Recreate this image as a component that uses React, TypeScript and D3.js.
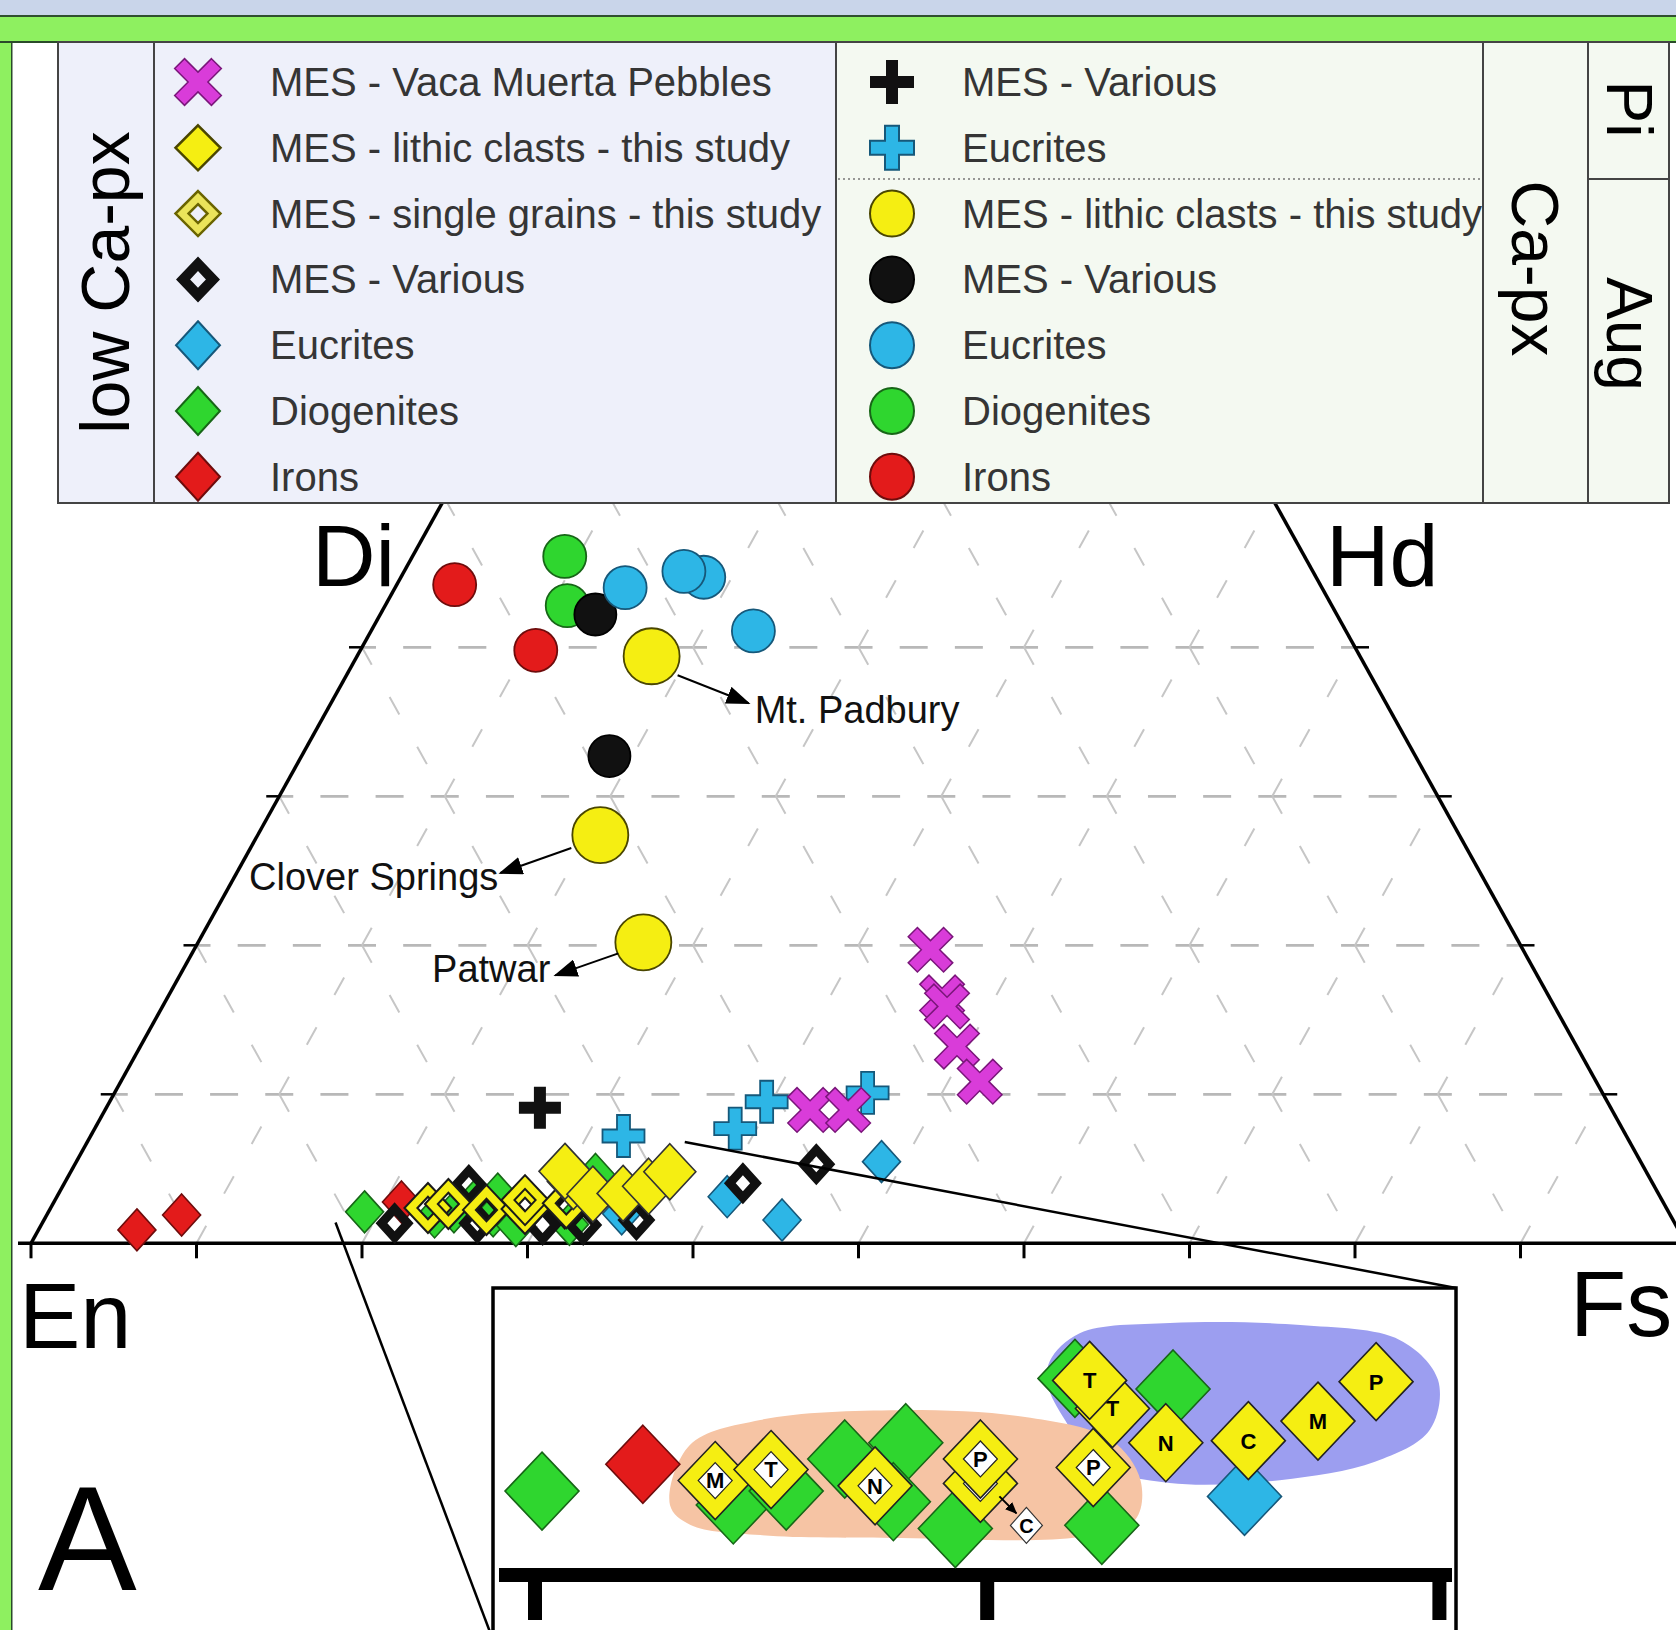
import * as d3 from "d3";

type Pt = { wo: number; fs: number; label?: string };

const WIDTH = 1676;
const HEIGHT = 1630;
const FONT = "'Liberation Sans', Arial, Helvetica, sans-serif";

// ---- Ca-px (augite circles, pigeonite crosses)  values in mol% Wo / Fs ----
const caIrons: Pt[] = [{ wo: 44.2, fs: 3.5 }, { wo: 39.8, fs: 10.6 }];
const caDiogenites: Pt[] = [{ wo: 46.1, fs: 9.2 }, { wo: 42.8, fs: 11.0 }];
const caVarious: Pt[] = [{ wo: 42.2, fs: 13.0 }, { wo: 32.7, fs: 18.6 }];
const caEucrites: Pt[] = [
  { wo: 44.0, fs: 13.9 },
  { wo: 44.7, fs: 18.3 },
  { wo: 45.1, fs: 16.9 },
  { wo: 41.1, fs: 23.1 },
];
const caLithic: Pt[] = [
  { wo: 39.4, fs: 17.8, label: "Mt. Padbury" },
  { wo: 27.4, fs: 20.7, label: "Clover Springs" },
  { wo: 20.2, fs: 26.9, label: "Patwar" },
];
const piVarious: Pt[] = [{ wo: 9.1, fs: 26.2 }];
const piEucrites: Pt[] = [
  { wo: 7.2, fs: 32.2 },
  { wo: 7.7, fs: 38.7 },
  { wo: 9.5, fs: 39.7 },
  { wo: 10.1, fs: 45.5 },
];

// ---- low Ca-px (diamonds) ----
const vacaMuerta: Pt[] = [
  { wo: 8.95, fs: 42.6 },
  { wo: 8.95, fs: 44.9 },
  { wo: 19.7, fs: 44.5 },
  { wo: 16.5, fs: 46.8 },
  { wo: 15.9, fs: 47.4 },
  { wo: 13.2, fs: 49.35 },
  { wo: 10.85, fs: 51.9 },
];
const lowDiogenites: Pt[] = [
  { wo: 2.11, fs: 19.1 },
  { wo: 1.77, fs: 23.5 },
  { wo: 2.11, fs: 24.5 },
  { wo: 2.9, fs: 25.4 },
  { wo: 3.3, fs: 26.55 },
  { wo: 1.85, fs: 27.0 },
  { wo: 1.19, fs: 28.7 },
  { wo: 1.27, fs: 31.9 },
  { wo: 4.88, fs: 29.5 },
  { wo: 4.62, fs: 31.8 },
];
const lowIrons: Pt[] = [
  { wo: 0.9, fs: 5.95 },
  { wo: 1.9, fs: 8.15 },
  { wo: 2.77, fs: 21.0 },
];
const lowEucrites: Pt[] = [
  { wo: 1.98, fs: 34.7 },
  { wo: 3.13, fs: 40.5 },
  { wo: 1.56, fs: 44.6 },
  { wo: 5.48, fs: 48.65 },
];
const lowVarious: Pt[] = [
  { wo: 1.34, fs: 21.3 },
  { wo: 3.91, fs: 24.5 },
  { wo: 1.34, fs: 26.3 },
  { wo: 2.23, fs: 26.4 },
  { wo: 2.68, fs: 28.6 },
  { wo: 1.23, fs: 30.3 },
  { wo: 2.3, fs: 31.1 },
  { wo: 1.23, fs: 32.75 },
  { wo: 1.56, fs: 35.8 },
  { wo: 4.03, fs: 41.0 },
  { wo: 5.3, fs: 44.8 },
];
const singleGrains: Pt[] = [
  { wo: 2.37, fs: 22.8, label: "M" },
  { wo: 2.64, fs: 23.9, label: "T" },
  { wo: 2.24, fs: 26.4, label: "N" },
  { wo: 2.3, fs: 28.7, label: "" },
  { wo: 2.9, fs: 28.4, label: "P" },
  { wo: 2.69, fs: 31.0, label: "P" },
];
const lithicClasts: Pt[] = [
  { wo: 4.14, fs: 30.7, label: "T" },
  { wo: 4.83, fs: 29.85, label: "T" },
  { wo: 3.3, fs: 32.3, label: "N" },
  { wo: 3.35, fs: 34.1, label: "C" },
  { wo: 3.83, fs: 35.4, label: "M" },
  { wo: 4.8, fs: 36.2, label: "P" },
];

// shaded fields in the enlargement
const peachField: [number, number][] = [
  [1.77, 22.1], [3.24, 21.8], [3.86, 23.05], [4.1, 26.0], [3.91, 29.0], [3.37, 31.05],
  [2.38, 32.2], [1.4, 32.57], [0.98, 31.56], [0.96, 27.6], [1.03, 24.47], [1.28, 22.8],
];
const blueField: [number, number][] = [
  [5.31, 28.73], [5.99, 29.05], [6.24, 30.92], [6.19, 33.83], [5.82, 36.22], [4.84, 37.55],
  [3.61, 37.98], [2.83, 37.16], [2.38, 35.28], [2.31, 32.88], [2.75, 31.11], [3.86, 29.79], [4.72, 28.98],
];

const legendLow = [
  "MES - Vaca Muerta Pebbles",
  "MES - lithic clasts - this study",
  "MES - single grains - this study",
  "MES - Various",
  "Eucrites",
  "Diogenites",
  "Irons",
];
const legendCa = [
  "MES - Various",
  "Eucrites",
  "MES - lithic clasts - this study",
  "MES - Various",
  "Eucrites",
  "Diogenites",
  "Irons",
];

const woLevels = [10, 20, 30, 40];
const gridLevels = d3.range(10, 100, 10);
const baseTicks = d3.range(0, 101, 10);
const insetTicks = [20, 30, 40];

const C = {
  yellow: "#f5ee12",
  yellowS: "#4a4600",
  green: "#2fd62f",
  greenS: "#176617",
  red: "#e31b1b",
  redS: "#6e0c0c",
  blue: "#2db6e6",
  blueS: "#16587a",
  black: "#111",
  magenta: "#d93cd9",
  magentaS: "#7a167a",
};

// ---- scales ----
const xMain = d3.scaleLinear().domain([0, 100]).range([31, 1686]);
const yMain = d3.scaleLinear().domain([0, 50]).range([1243.3, 498.3]);
const mx = (p: { wo: number; fs: number }) => xMain(p.fs + p.wo / 2);
const my = (p: { wo: number; fs: number }) => yMain(p.wo);

const xIn = d3.scaleLinear().domain([20, 40]).range([535, 1439.4]);
const yIn = d3.scaleLinear().domain([0, 10]).range([1577, 1170]);
const INSET = { left: 493, right: 1456, top: 1288 };
const inX0 = xIn.invert(INSET.left);
const inX1 = xIn.invert(INSET.right);
const ix = (p: { wo: number; fs: number }) => xIn(p.fs + p.wo / 2);
const iy = (p: { wo: number; fs: number }) => yIn(p.wo);
const inInset = (p: Pt) => {
  const v = p.fs + p.wo / 2;
  return v > inX0 && v < inX1;
};

// ---- symbol paths ----
const diamond = (cx: number, cy: number, hw: number, hh: number) =>
  `M${cx},${cy - hh}L${cx + hw},${cy}L${cx},${cy + hh}L${cx - hw},${cy}Z`;
const ring = (cx: number, cy: number, hw: number, hh: number, k: number) =>
  diamond(cx, cy, hw, hh) + diamond(cx, cy, hw * k, hh * k);
const plusPts = (L: number, t: number) => [
  [-t, -L], [t, -L], [t, -t], [L, -t], [L, t], [t, t],
  [t, L], [-t, L], [-t, t], [-L, t], [-L, -t], [-t, -t],
];
const plus = (cx: number, cy: number, L: number, t: number) =>
  "M" + plusPts(L, t).map(([x, y]) => `${cx + x},${cy + y}`).join("L") + "Z";
const cross = (cx: number, cy: number, L: number, t: number) =>
  "M" +
  plusPts(L, t)
    .map(([x, y]) => `${cx + (x - y) / Math.SQRT2},${cy + (x + y) / Math.SQRT2}`)
    .join("L") +
  "Z";

const annotations = [
  { from: [26, 19], to: [97, 47], text: [103, 67], anchor: "start" },
  { from: [-29, 13], to: [-100, 38], text: [-102, 55], anchor: "end" },
  { from: [-25, 11], to: [-88, 33], text: [-93, 40], anchor: "end" },
];

const LowSymbol = ({ i, x, y }: { i: number; x: number; y: number }) => {
  if (i === 0)
    return <path d={cross(x, y, 26, 7)} fill={C.magenta} stroke={C.magentaS} strokeWidth={1.5} />;
  if (i === 1)
    return <path d={diamond(x, y, 22.5, 22.5)} fill={C.yellow} stroke={C.yellowS} strokeWidth={2.5} />;
  if (i === 2)
    return (
      <path d={ring(x, y, 22.5, 22.5, 0.42)} fill="#ebe45a" fillRule="evenodd" stroke="#6a6400" strokeWidth={2.5} />
    );
  if (i === 3) return <path d={ring(x, y, 22, 23, 0.36)} fill={C.black} fillRule="evenodd" />;
  const fills = [C.blue, C.green, C.red];
  const strokes = [C.blueS, C.greenS, C.redS];
  return <path d={diamond(x, y, 22, 24)} fill={fills[i - 4]} stroke={strokes[i - 4]} strokeWidth={2} />;
};

const CaSymbol = ({ i, x, y }: { i: number; x: number; y: number }) => {
  if (i === 0) return <path d={plus(x, y, 22, 6)} fill={C.black} />;
  if (i === 1) return <path d={plus(x, y, 22, 7)} fill={C.blue} stroke={C.blueS} strokeWidth={2} />;
  const fills = [C.yellow, C.black, C.blue, C.green, C.red];
  const strokes = [C.yellowS, "#000", C.blueS, C.greenS, C.redS];
  return <ellipse cx={x} cy={y} rx={22} ry={23} fill={fills[i - 2]} stroke={strokes[i - 2]} strokeWidth={2} />;
};

export default function App() {
  const blobLine = d3
    .line<[number, number]>()
    .x((d) => xIn(d[1] + d[0] / 2))
    .y((d) => yIn(d[0]))
    .curve(d3.curveCatmullRomClosed.alpha(0.5));

  const rows = d3.range(7).map((i) => 82 + i * 65.8);

  // grid segments in composition space
  const gridSegs: { a: Pt; b: Pt; kind: string }[] = [];
  woLevels.forEach((w) => gridSegs.push({ a: { wo: w, fs: 0 }, b: { wo: w, fs: 100 - w }, kind: "h" }));
  gridLevels.forEach((f) => {
    const top = Math.min(50, 100 - f);
    gridSegs.push({ a: { wo: 0, fs: f }, b: { wo: top, fs: f }, kind: "fs" });
  });
  gridLevels.forEach((e) => {
    const top = Math.min(50, 100 - e);
    gridSegs.push({ a: { wo: 0, fs: 100 - e }, b: { wo: top, fs: 100 - e - top }, kind: "en" });
  });

  const sgIn = singleGrains.filter(inInset);
  const cLabelPt = singleGrains.find((p) => p.label === "");

  return (
    <svg
      width={WIDTH}
      height={HEIGHT}
      style={{ position: "absolute", left: 0, top: 0, fontFamily: FONT }}
    >
      <defs>
        <marker id="arr" markerUnits="userSpaceOnUse" markerWidth={24} markerHeight={18} refX={22} refY={9} orient="auto">
          <path d="M0,0L24,9L0,18Z" fill="#000" />
        </marker>
        <marker id="arrS" markerUnits="userSpaceOnUse" markerWidth={12} markerHeight={10} refX={11} refY={5} orient="auto">
          <path d="M0,0L12,5L0,10Z" fill="#000" />
        </marker>
      </defs>

      {/* frame */}
      <rect x={0} y={0} width={WIDTH} height={HEIGHT} fill="#fff" />
      <rect x={0} y={0} width={WIDTH} height={15} fill="#c9d5ea" />
      <rect x={0} y={15} width={WIDTH} height={2} fill="#2f4f2f" />
      <rect x={0} y={17} width={WIDTH} height={24} fill="#8ef060" />
      <rect x={0} y={17} width={11} height={HEIGHT} fill="#8ef060" />
      <rect x={0} y={41} width={WIDTH} height={2} fill="#2a4a2a" />
      <rect x={11} y={41} width={1.5} height={HEIGHT} fill="#2a4a2a" />

      {/* grid */}
      <g fill="none">
        {gridSegs.map((s, i) => {
          const h = s.kind === "h";
          return (
            <line
              key={i}
              x1={mx(s.a)}
              y1={my(s.a)}
              x2={mx(s.b)}
              y2={my(s.b)}
              stroke={h ? "#b8b8b8" : "#c6c6c6"}
              strokeWidth={h ? 2.8 : 2}
              strokeDasharray={h ? "28 27.17" : "20 36.81"}
              strokeDashoffset={h ? 14 : s.kind === "en" ? 20 : 0}
            />
          );
        })}
      </g>

      {/* axes */}
      <g stroke="#000" strokeWidth={3.5} fill="none">
        <line x1={mx({ wo: 0, fs: 0 })} y1={my({ wo: 0, fs: 0 })} x2={mx({ wo: 50, fs: 0 })} y2={my({ wo: 50, fs: 0 })} />
        <line x1={mx({ wo: 0, fs: 100 })} y1={my({ wo: 0, fs: 100 })} x2={mx({ wo: 50, fs: 50 })} y2={my({ wo: 50, fs: 50 })} />
        <line x1={18} y1={yMain(0)} x2={WIDTH} y2={yMain(0)} />
        {baseTicks.map((t) => (
          <line key={t} x1={xMain(t)} y1={yMain(0)} x2={xMain(t)} y2={yMain(0) + 15} strokeWidth={3} />
        ))}
        {woLevels.map((w) => (
          <g key={w} strokeWidth={2.5}>
            <line x1={mx({ wo: w, fs: 0 }) - 13} y1={yMain(w)} x2={mx({ wo: w, fs: 0 })} y2={yMain(w)} />
            <line x1={mx({ wo: w, fs: 100 - w })} y1={yMain(w)} x2={mx({ wo: w, fs: 100 - w }) + 14} y2={yMain(w)} />
          </g>
        ))}
      </g>

      {/* Ca-px circles */}
      <g strokeWidth={1.8}>
        {caIrons.map((p, i) => (
          <circle key={"ci" + i} cx={mx(p)} cy={my(p)} r={21.5} fill={C.red} stroke={C.redS} />
        ))}
        {caDiogenites.map((p, i) => (
          <circle key={"cd" + i} cx={mx(p)} cy={my(p)} r={21.5} fill={C.green} stroke={C.greenS} />
        ))}
        {caVarious.map((p, i) => (
          <circle key={"cv" + i} cx={mx(p)} cy={my(p)} r={21} fill={C.black} stroke="#000" />
        ))}
        {caEucrites.map((p, i) => (
          <circle key={"ce" + i} cx={mx(p)} cy={my(p)} r={21.5} fill={C.blue} stroke={C.blueS} />
        ))}
        {caLithic.map((p, i) => (
          <circle key={"cl" + i} cx={mx(p)} cy={my(p)} r={28} fill={C.yellow} stroke={C.yellowS} />
        ))}
      </g>

      {/* annotations */}
      {caLithic.map((p, i) => {
        const a = annotations[i];
        const x = mx(p);
        const y = my(p);
        return (
          <g key={"an" + i}>
            <line x1={x + a.from[0]} y1={y + a.from[1]} x2={x + a.to[0]} y2={y + a.to[1]} stroke="#000" strokeWidth={2} markerEnd="url(#arr)" />
            <text x={x + a.text[0]} y={y + a.text[1]} fontSize={38} textAnchor={a.anchor} fill="#111">
              {p.label}
            </text>
          </g>
        );
      })}

      {/* pigeonite crosses */}
      {piVarious.map((p, i) => (
        <path key={"pv" + i} d={plus(mx(p), my(p), 21, 6)} fill={C.black} />
      ))}
      {piEucrites.map((p, i) => (
        <path key={"pe" + i} d={plus(mx(p), my(p), 21, 6.5)} fill={C.blue} stroke={C.blueS} strokeWidth={1.8} />
      ))}
      {vacaMuerta.map((p, i) => (
        <path key={"vm" + i} d={cross(mx(p), my(p), 25, 6.5)} fill={C.magenta} stroke={C.magentaS} strokeWidth={1.5} />
      ))}

      {/* low Ca-px diamonds */}
      <g strokeWidth={1.6}>
        {lowDiogenites.map((p, i) => (
          <path key={"ld" + i} d={diamond(mx(p), my(p), 19, 21)} fill={C.green} stroke={C.greenS} />
        ))}
        {lowIrons.map((p, i) => (
          <path key={"li" + i} d={diamond(mx(p), my(p), 19, 21)} fill={C.red} stroke={C.redS} />
        ))}
        {lowEucrites.map((p, i) => (
          <path key={"le" + i} d={diamond(mx(p), my(p), 19, 21)} fill={C.blue} stroke={C.blueS} />
        ))}
        {lowVarious.map((p, i) => (
          <path key={"lv" + i} d={ring(mx(p), my(p), 19, 21, 0.38)} fill={C.black} fillRule="evenodd" stroke="none" />
        ))}
        {singleGrains.map((p, i) => (
          <path key={"sg" + i} d={ring(mx(p), my(p), 23.5, 25, 0.45)} fill={C.yellow} fillRule="evenodd" stroke="#1a1a1a" strokeWidth={2} />
        ))}
        {lithicClasts.map((p, i) => (
          <path key={"lc" + i} d={diamond(mx(p), my(p), 26, 28)} fill={C.yellow} stroke="#333" />
        ))}
      </g>

      {/* callout lines */}
      <g stroke="#000" strokeWidth={2.5}>
        <line x1={mx({ wo: 1.4, fs: 17.7 })} y1={my({ wo: 1.4, fs: 17.7 })} x2={INSET.left} y2={1640} />
        <line x1={mx({ wo: 6.8, fs: 36.1 })} y1={my({ wo: 6.8, fs: 36.1 })} x2={INSET.right} y2={INSET.top} />
      </g>

      {/* inset */}
      <rect x={INSET.left} y={INSET.top} width={INSET.right - INSET.left} height={420} fill="#fff" stroke="#000" strokeWidth={3.5} />
      <path d={blobLine(blueField) || ""} fill="#9c9ef0" />
      <path d={blobLine(peachField) || ""} fill="#f6c4a4" />
      <rect x={INSET.left + 6} y={1568} width={INSET.right - INSET.left - 10} height={14} fill="#000" />
      {insetTicks.map((t) => (
        <rect key={t} x={xIn(t) - 7} y={1570} width={14} height={50} fill="#000" />
      ))}
      <g strokeWidth={1.6}>
        {lowDiogenites.filter(inInset).map((p, i) => (
          <path key={"id" + i} d={diamond(ix(p), iy(p), 37, 39)} fill={C.green} stroke={C.greenS} />
        ))}
        {lowIrons.filter(inInset).map((p, i) => (
          <path key={"ii" + i} d={diamond(ix(p), iy(p), 37, 39)} fill={C.red} stroke={C.redS} />
        ))}
        {lowEucrites.filter(inInset).map((p, i) => (
          <path key={"ie" + i} d={diamond(ix(p), iy(p), 37, 39)} fill={C.blue} stroke={C.blueS} />
        ))}
        {sgIn.map((p, i) => (
          <g key={"is" + i}>
            <path d={diamond(ix(p), iy(p), 37, 39)} fill={C.yellow} stroke="#222" />
            <path d={diamond(ix(p), iy(p), 17, 18)} fill="#fff" stroke="#222" strokeWidth={1.2} />
            <text x={ix(p)} y={iy(p)} dy="0.36em" textAnchor="middle" fontSize={22} fontWeight="bold" fill="#000">
              {p.label}
            </text>
          </g>
        ))}
        {lithicClasts.filter(inInset).map((p, i) => (
          <g key={"il" + i}>
            <path d={diamond(ix(p), iy(p), 37, 39)} fill={C.yellow} stroke="#222" />
            <text x={ix(p)} y={iy(p)} dy="0.36em" textAnchor="middle" fontSize={22} fontWeight="bold" fill="#000">
              {p.label}
            </text>
          </g>
        ))}
      </g>
      {cLabelPt && (
        <g>
          <line x1={ix(cLabelPt) + 19} y1={iy(cLabelPt) + 13} x2={ix(cLabelPt) + 36} y2={iy(cLabelPt) + 30} stroke="#000" strokeWidth={2} markerEnd="url(#arrS)" />
          <path d={diamond(ix(cLabelPt) + 46, iy(cLabelPt) + 42, 16, 18)} fill="#fff" stroke="#333" strokeWidth={1.2} />
          <text x={ix(cLabelPt) + 46} y={iy(cLabelPt) + 42} dy="0.36em" textAnchor="middle" fontSize={20} fontWeight="bold">
            C
          </text>
        </g>
      )}

      {/* legend */}
      <g>
        <rect x={58} y={42} width={778} height={461} fill="#eef0fa" />
        <rect x={836} y={42} width={833} height={461} fill="#f4f9f1" />
        <g stroke="#444" strokeWidth={2} fill="none">
          <rect x={58} y={42} width={1611} height={461} />
          <line x1={154} y1={42} x2={154} y2={503} />
          <line x1={836} y1={42} x2={836} y2={503} />
          <line x1={1483} y1={42} x2={1483} y2={503} />
          <line x1={1588} y1={42} x2={1588} y2={503} />
          <line x1={1588} y1={179} x2={1669} y2={179} />
          <line x1={838} y1={179} x2={1483} y2={179} strokeDasharray="2 3" stroke="#777" strokeWidth={1.5} />
        </g>
        <text transform="translate(129,282.5) rotate(-90)" textAnchor="middle" fontSize={68} fill="#000">
          low Ca-px
        </text>
        <text transform="translate(1512,268.5) rotate(90)" textAnchor="middle" fontSize={66} fill="#000">
          Ca-px
        </text>
        <text transform="translate(1607,109) rotate(90)" textAnchor="middle" fontSize={64} fill="#000">
          Pi
        </text>
        <text transform="translate(1607,334) rotate(90)" textAnchor="middle" fontSize={64} fill="#000">
          Aug
        </text>
        {legendLow.map((t, i) => (
          <g key={"ll" + i}>
            <LowSymbol i={i} x={198} y={rows[i]} />
            <text x={270} y={rows[i] + 14} fontSize={40} fill="#353535">
              {t}
            </text>
          </g>
        ))}
        {legendCa.map((t, i) => (
          <g key={"lc" + i}>
            <CaSymbol i={i} x={892} y={rows[i]} />
            <text x={962} y={rows[i] + 14} fontSize={40} fill="#353535">
              {t}
            </text>
          </g>
        ))}
      </g>

      {/* end-member labels */}
      <g fill="#000">
        <text x={312} y={586} fontSize={88}>Di</text>
        <text x={1326} y={586} fontSize={88}>Hd</text>
        <text x={19} y={1348} fontSize={92}>En</text>
        <text x={1570} y={1336} fontSize={92}>Fs</text>
        <text x={38} y={1590} fontSize={148}>A</text>
      </g>
    </svg>
  );
}
